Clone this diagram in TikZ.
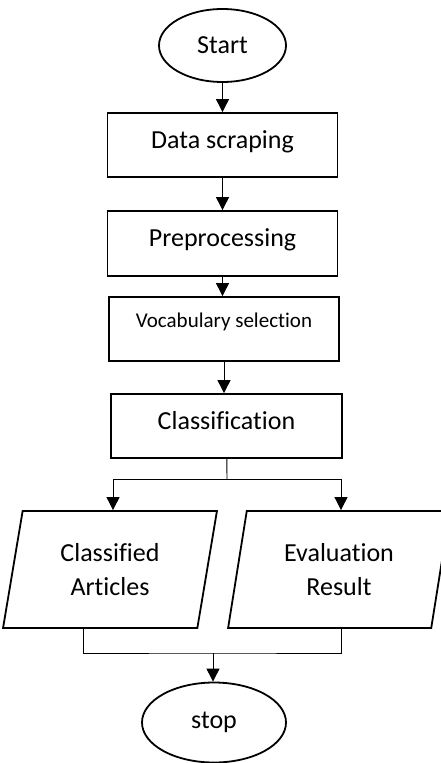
\documentclass[tikz,border=0pt]{standalone}
\usepackage{fontspec}
\setmainfont{Carlito}[Ligatures=NoCommon]
\usetikzlibrary{shapes.geometric,arrows.meta}

\begin{document}
\begin{tikzpicture}[x=1pt,y=-1pt,font=\fontsize{26pt}{34pt}\selectfont,
	terminal/.style={ellipse, draw, line width=1.8pt, inner sep=0pt},
	process/.style={rectangle, draw, line width=1.8pt, minimum width=230pt, minimum height=64pt, inner sep=0pt, text height=18pt, text depth=12pt},
	iobox/.style={trapezium, trapezium left angle=78, trapezium right angle=102, trapezium stretches=true, draw, line width=1.8pt, minimum height=117pt, inner sep=0pt, align=center},
	flow/.style={-{Triangle[length=13pt,width=13pt]}, line width=0.9pt}]
	\useasboundingbox (0,0) rectangle (440,763);
	\node (start) at (222.5,  45.5)	[terminal, minimum width=127pt, minimum height=73pt]	{Start};
	\node (scrape) at (222.5, 145)	[process]	{Data scraping};
	\node (prep) at (222.5, 243.5)	[process, minimum height=65pt]	{Preprocessing};
	\node (vocab) at (224, 329)	[process, font=\fontsize{21pt}{26pt}\selectfont, text height=14pt, text depth=18pt]	{Vocabulary selection};
	\node (cls) at (226.5, 426)	[process, minimum width=231pt]	{Classification};
	\node (art) at (110, 569.5)	[iobox, minimum width=214pt]	{Classified\\Articles};
	\node (res) at (339, 569.5)	[iobox, minimum width=222pt]	{Evaluation\\Result};
	\node (stop) at (214, 722.5)	[terminal, minimum width=144pt, minimum height=80pt]	{stop};
	\coordinate (split) at (227, 479);
	\coordinate (join) at (213, 653);
	\draw[flow] (start) -- (start |- scrape.north);
	\draw[flow] (scrape) -- (scrape |- prep.north);
	\draw[flow] (prep) -- (prep |- vocab.north);
	\draw[flow] (vocab) -- (vocab |- cls.north);
	\draw[line width=0.9pt] (cls) -- (split);
	\draw[flow] (split) -| ([xshift=3pt]art.north);
	\draw[flow] (split) -| ([xshift=2pt]res.north);
	\draw[line width=0.9pt] ([xshift=-27pt]art.south) |- (join) -| ([xshift=2pt]res.south);
	\draw[flow] (join) -- (join |- stop.north);
\end{tikzpicture}
\end{document}
